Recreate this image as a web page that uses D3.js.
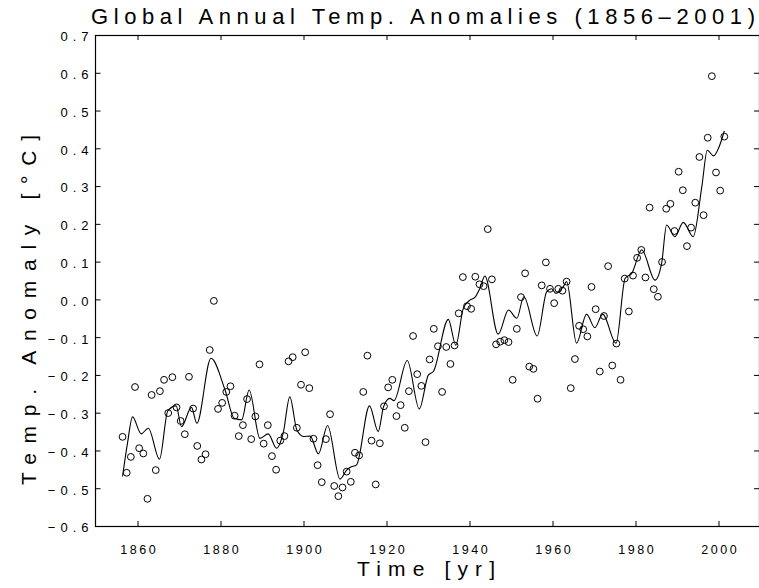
<!DOCTYPE html>
<html><head><meta charset="utf-8">
<script src="https://cdn.jsdelivr.net/npm/d3@7"></script>
<style>
body{margin:0;background:#fff}
svg{display:block}
text{font-family:"Liberation Sans",Arial,sans-serif;fill:#000}
</style>
</head><body>
<svg id="chart" width="759" height="588"></svg>
<script>
// ---- data ----
const firstYear = 1856;
const anomalies = [
 -0.364,-0.459,-0.417,-0.232,-0.394,-0.408,-0.528,-0.253,-0.452,-0.243,
 -0.213,-0.301,-0.206,-0.286,-0.322,-0.357,-0.205,-0.289,-0.388,-0.424,
 -0.410,-0.134,-0.004,-0.290,-0.274,-0.245,-0.230,-0.308,-0.362,-0.333,
 -0.264,-0.370,-0.310,-0.172,-0.382,-0.333,-0.415,-0.451,-0.374,-0.362,
 -0.164,-0.153,-0.340,-0.226,-0.140,-0.235,-0.369,-0.439,-0.484,-0.370,
 -0.304,-0.494,-0.521,-0.498,-0.456,-0.483,-0.406,-0.413,-0.245,-0.149,
 -0.374,-0.490,-0.381,-0.283,-0.233,-0.213,-0.309,-0.280,-0.340,-0.243,
 -0.097,-0.198,-0.229,-0.378,-0.159,-0.078,-0.124,-0.245,-0.126,-0.171,
 -0.122,-0.037, 0.059,-0.018,-0.025, 0.060, 0.040, 0.035, 0.186, 0.053,
 -0.119,-0.112,-0.108,-0.113,-0.213,-0.078, 0.006, 0.069,-0.178,-0.184,
 -0.263, 0.037, 0.098, 0.028,-0.010, 0.028, 0.023, 0.047,-0.235,-0.158,
 -0.070,-0.079,-0.098, 0.033,-0.026,-0.191,-0.044, 0.088,-0.175,-0.117,
 -0.213, 0.055,-0.032, 0.063, 0.110, 0.131, 0.058, 0.243, 0.027, 0.007,
  0.099, 0.240, 0.253, 0.181, 0.338, 0.289, 0.141, 0.190, 0.256, 0.377,
  0.223, 0.428, 0.591, 0.336, 0.288, 0.431
];
// smoothed curve, read at its turning points
const smoothTimes = [
 1856.4,1857.6,1858.8,1860.9,1862.6,1865.3,1867.3,1869.3,1870.6,1873.0,
 1874.3,1877.7,1881.1,1883.3,1885.1,1886.9,1889.5,1891.5,1893.5,1895.1,
 1896.7,1898.4,1900.0,1901.6,1903.6,1905.8,1908.8,1910.4,1911.2,1912.8,
 1915.9,1918.0,1919.3,1920.8,1921.8,1925.0,1927.9,1930.1,1931.3,1934.9,
 1936.7,1938.5,1940.1,1941.3,1942.5,1943.7,1946.9,1949.4,1951.4,1953.1,
 1956.3,1958.6,1959.8,1960.8,1962.6,1963.4,1965.8,1968.2,1970.2,1972.1,
 1975.3,1977.5,1979.1,1981.5,1984.7,1986.3,1987.5,1989.5,1991.5,1993.9,
 1996.0,1997.3,1998.8,2000.0,2001.4
];
const smoothValues = [
 -0.469,-0.380,-0.311,-0.356,-0.341,-0.423,-0.295,-0.282,-0.337,-0.286,
 -0.328,-0.156,-0.240,-0.315,-0.319,-0.240,-0.368,-0.356,-0.394,-0.354,
 -0.258,-0.346,-0.363,-0.362,-0.409,-0.334,-0.476,-0.452,-0.445,-0.438,
 -0.282,-0.350,-0.284,-0.262,-0.268,-0.162,-0.290,-0.200,-0.191,-0.053,
 -0.121,-0.024,-0.002, 0.005, 0.029, 0.062,-0.092,-0.028,-0.050, 0.007,
 -0.097, 0.020, 0.028, 0.016, 0.034, 0.047,-0.116,-0.039,-0.075,-0.039,
 -0.116, 0.056, 0.069, 0.131, 0.051, 0.096, 0.197, 0.166, 0.204, 0.166,
  0.300, 0.395, 0.380, 0.400, 0.446
];
const xTicks = [1860,1880,1900,1920,1940,1960,1980,2000];
const yTicks = [-0.6,-0.5,-0.4,-0.3,-0.2,-0.1,0.0,0.1,0.2,0.3,0.4,0.5,0.6,0.7];
const title = "Global Annual Temp. Anomalies (1856\u20132001)";
const xLabel = "Time [yr]";
const yLabel = "Temp. Anomaly [\u00B0C]";

// ---- drawing ----
const svg = d3.select("#chart");
const L = 96, R = 760, T = 35, B = 526;
const x = d3.scaleLinear().domain([1850, 2010]).range([L, R]);
const y = d3.scaleLinear().domain([-0.6, 0.7]).range([B, T]);
const fmtY = v => (v < 0 ? "\u2212" : "") + Math.abs(v).toFixed(1);
const tick = 5;

// frame
svg.append("rect").attr("x", L - 0.5).attr("y", T + 0.5)
  .attr("width", R - L).attr("height", B - T)
  .attr("fill", "none").attr("stroke", "#000").attr("stroke-width", 1.2);

// axes
const axB = svg.append("g").attr("transform", `translate(0,${B})`)
  .call(d3.axisBottom(x).tickValues(xTicks).tickSizeInner(-tick).tickSizeOuter(0).tickPadding(19).tickFormat(d3.format("d")));
const axT = svg.append("g").attr("transform", `translate(0,${T})`)
  .call(d3.axisTop(x).tickValues(xTicks).tickSizeInner(-tick).tickSizeOuter(0).tickFormat(""));
const axL = svg.append("g").attr("transform", `translate(${L - 0.5},0)`)
  .call(d3.axisLeft(y).tickValues(yTicks).tickSizeInner(-tick).tickSizeOuter(0).tickPadding(2).tickFormat(fmtY));
const axR = svg.append("g").attr("transform", `translate(${R - 1},0)`)
  .call(d3.axisRight(y).tickValues(yTicks).tickSizeInner(-tick).tickSizeOuter(0).tickFormat(""));
[axB, axT, axL, axR].forEach(g => {
  g.select(".domain").remove();
  g.selectAll(".tick line").attr("stroke", "#000");
});
axB.selectAll("text").attr("font-size", 12.5).attr("letter-spacing", "2.6px").attr("dx", "1.3px")
  .attr("font-family", "Liberation Sans, Arial, sans-serif");
axL.selectAll("text").attr("font-size", 13).attr("letter-spacing", "5px")
  .attr("dy", "0.45em").attr("font-family", "Liberation Sans, Arial, sans-serif");

// points
svg.append("g").selectAll("circle").data(anomalies).join("circle")
  .attr("cx", (d, i) => x(firstYear + i + 0.4))
  .attr("cy", d => y(d))
  .attr("r", 3.4)
  .attr("fill", "none").attr("stroke", "#000").attr("stroke-width", 1);

// smooth line
const pts = smoothTimes.map((t, i) => [t, smoothValues[i]]);
svg.append("path").datum(pts)
  .attr("fill", "none").attr("stroke", "#000").attr("stroke-width", 1.1)
  .attr("d", d3.line().x(d => x(d[0])).y(d => y(d[1])).curve(d3.curveMonotoneX));

// labels
svg.append("text").attr("x", 91).attr("y", 24).attr("font-size", 22)
  .attr("textLength", 664).attr("lengthAdjust", "spacing").text(title);
svg.append("text").attr("x", 357).attr("y", 576).attr("font-size", 21)
  .attr("textLength", 138).attr("lengthAdjust", "spacing").text(xLabel);
svg.append("text").attr("transform", "translate(36,485) rotate(-90)")
  .attr("font-size", 21).attr("textLength", 350).attr("lengthAdjust", "spacing").text(yLabel);
</script>
</body></html>
